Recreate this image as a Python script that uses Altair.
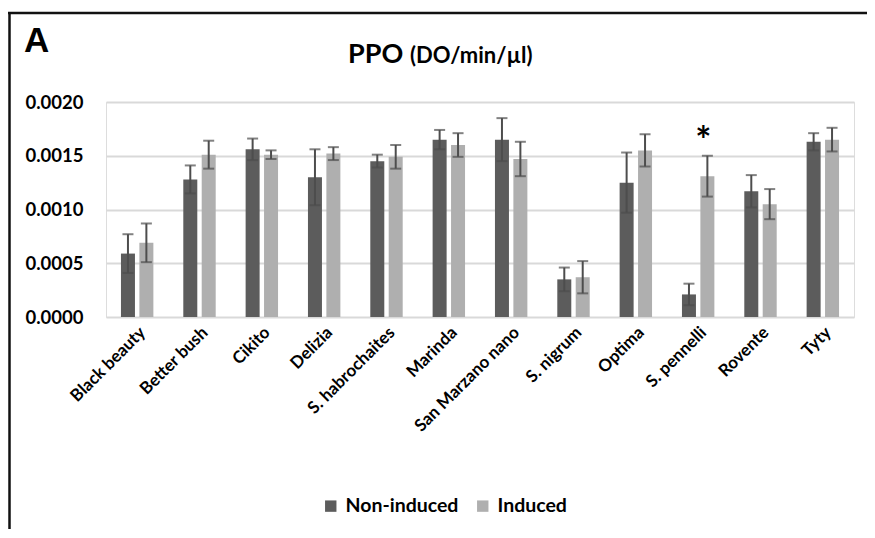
import altair as alt
import pandas as pd

categories = ["Black beauty", "Better bush", "Cikito", "Delizia", "S. habrochaites", "Marinda",
              "San Marzano nano", "S. nigrum", "Optima", "S. pennelli", "Rovente", "Tyty"]
series = ["Non-induced", "Induced"]
non_induced = [0.00059, 0.00128, 0.00156, 0.00130, 0.00145, 0.00165, 0.00165, 0.00035, 0.00125, 0.00021, 0.00117, 0.00163]
non_induced_err = [0.00018, 0.00013, 0.00010, 0.00026, 0.00006, 0.00009, 0.00020, 0.00011, 0.00028, 0.00010, 0.00015, 0.00008]
induced = [0.00069, 0.00151, 0.00151, 0.00152, 0.00149, 0.00160, 0.00147, 0.00037, 0.00155, 0.00131, 0.00105, 0.00165]
induced_err = [0.00018, 0.00013, 0.00004, 0.00006, 0.00011, 0.00011, 0.00016, 0.00015, 0.00015, 0.00019, 0.00014, 0.00011]
y_ticks = [0.0, 0.0005, 0.0010, 0.0015, 0.0020]
star_category = "S. pennelli"
star_series = "Induced"
star_value = 0.00171

rows = []
for c, v, e in zip(categories, non_induced, non_induced_err):
    rows.append({"cat": c, "series": "Non-induced", "v": v, "lo": v - e, "hi": v + e})
for c, v, e in zip(categories, induced, induced_err):
    rows.append({"cat": c, "series": "Induced", "v": v, "lo": v - e, "hi": v + e})
df = pd.DataFrame(rows)

FONT = "Lato"

xenc = alt.X("cat:N", sort=categories, title=None,
             scale=alt.Scale(paddingInner=0.48, paddingOuter=0.24),
             axis=alt.Axis(labelAngle=-45, labelFontSize=17, labelFontWeight="bold", labelFont=FONT,
                           labelColor="#000", labelPadding=7, ticks=False, domain=False, labelLimit=300))
xoff = alt.XOffset("series:N", sort=series, scale=alt.Scale(domain=series, paddingInner=0.24))
yscale = alt.Scale(domain=[0, 0.002], nice=False)

base = alt.Chart(df)

bars = base.mark_bar().encode(
    x=xenc,
    xOffset=xoff,
    y=alt.Y("v:Q", scale=yscale, title=None,
            axis=alt.Axis(values=y_ticks, format=".4f", labelFontSize=18.5, labelFontWeight="bold",
                          labelFont=FONT, labelColor="#000", labelPadding=23, ticks=False,
                          domain=False, grid=True, gridColor="#d9d9d9", gridWidth=2)),
    color=alt.Color("series:N", sort=series,
                    scale=alt.Scale(domain=series, range=["#5c5c5c", "#afafaf"]),
                    legend=alt.Legend(title=None, orient="none", legendX=215, legendY=394,
                                      direction="horizontal", symbolType="square", symbolSize=130,
                                      symbolStrokeWidth=0, labelFontSize=19.5, labelFontWeight="bold",
                                      labelFont=FONT, labelColor="#000", columnPadding=14,
                                      labelOffset=5, symbolOpacity=1)),
)

rules = base.mark_rule(color="#4d4d4d", strokeWidth=2).encode(
    x=alt.X("cat:N", sort=categories), xOffset=xoff,
    y=alt.Y("lo:Q", scale=yscale), y2="hi:Q")
caps_hi = base.mark_tick(color="#4d4d4d", thickness=2, size=11).encode(
    x=alt.X("cat:N", sort=categories), xOffset=xoff, y=alt.Y("hi:Q", scale=yscale))
caps_lo = base.mark_tick(color="#4d4d4d", thickness=2, size=11).encode(
    x=alt.X("cat:N", sort=categories), xOffset=xoff, y=alt.Y("lo:Q", scale=yscale))

star_df = pd.DataFrame({"cat": [star_category], "series": [star_series], "v": [star_value], "t": ["*"]})
star = alt.Chart(star_df).mark_text(fontSize=38, fontWeight="bold", font=FONT, color="#000",
                                     baseline="middle", dx=-4, dy=10).encode(
    x=alt.X("cat:N", sort=categories), xOffset=xoff, y=alt.Y("v:Q", scale=yscale), text="t:N")

letter = alt.Chart(pd.DataFrame({"t": ["A"]})).mark_text(
    fontSize=35, fontWeight="bold", font="Liberation Sans", color="#000", align="left",
    baseline="alphabetic").encode(x=alt.value(-82), y=alt.value(-50), text="t:N")
title_main = alt.Chart(pd.DataFrame({"t": ["PPO"]})).mark_text(
    fontSize=27, fontWeight="bold", font=FONT, color="#000", align="left",
    baseline="alphabetic").encode(x=alt.value(242), y=alt.value(-39), text="t:N")
title_unit = alt.Chart(pd.DataFrame({"t": ["(DO/min/µl)"]})).mark_text(
    fontSize=22, fontWeight="bold", font=FONT, color="#000", align="left",
    baseline="alphabetic").encode(x=alt.value(304), y=alt.value(-39), text="t:N")

frame_top = alt.Chart(pd.DataFrame({"t": [0]})).mark_rule(color="#111", strokeWidth=2.5).encode(
    x=alt.value(-98), x2=alt.value(790), y=alt.value(-89))
frame_left = alt.Chart(pd.DataFrame({"t": [0]})).mark_rule(color="#111", strokeWidth=2.5).encode(
    x=alt.value(-96.5), y=alt.value(-90), y2=alt.value(450))

chart = alt.layer(bars, rules, caps_hi, caps_lo, star, letter, title_main, title_unit,
                  frame_top, frame_left).properties(
    width=748, height=215,
    autosize=alt.AutoSizeParams(type="none"),
    padding={"left": 98, "top": 94, "right": 13, "bottom": 212},
).configure_view(stroke=None).configure(background="white")

chart.save("out.html", embed_options={"renderer": "svg", "actions": False})
